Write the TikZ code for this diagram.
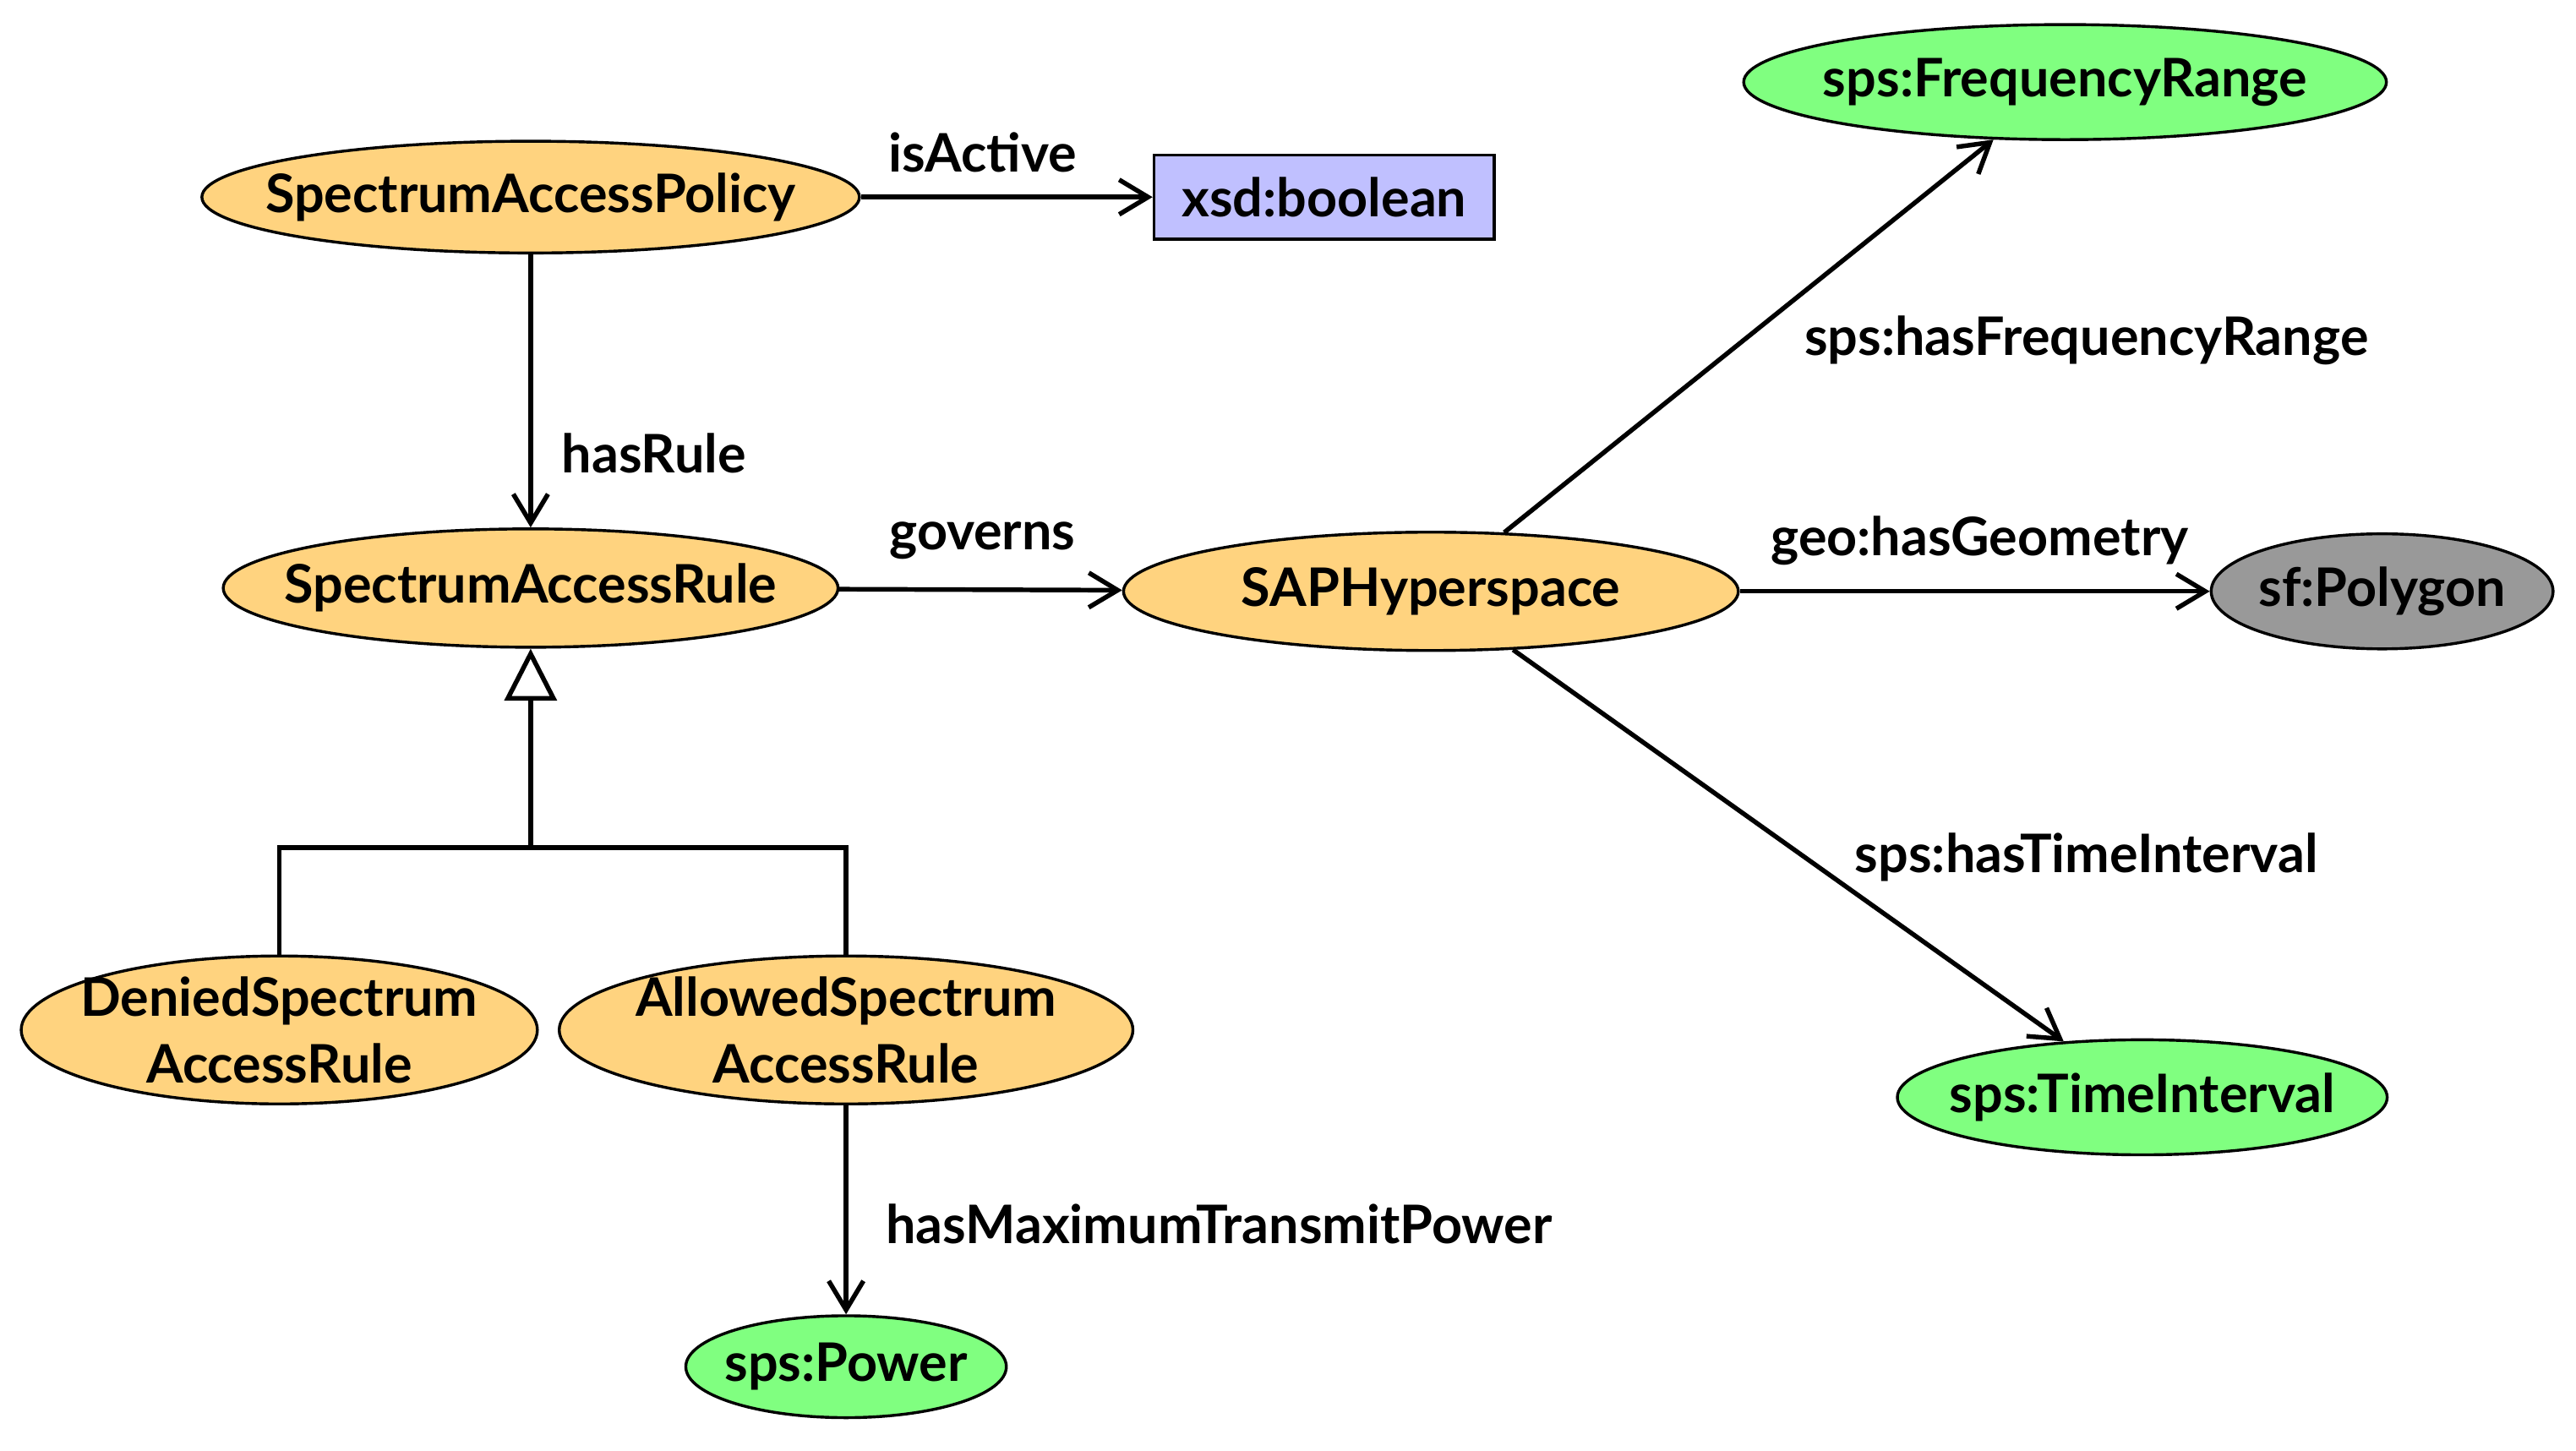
\documentclass[tikz,border=0pt]{standalone}
\usepackage{fontspec}
\setmainfont{Lato}
\usetikzlibrary{shapes.geometric,arrows.meta}
\definecolor{orng}{HTML}{FFD37F}
\definecolor{grn}{HTML}{80FF80}
\definecolor{lav}{HTML}{C0C0FF}
\definecolor{gry}{HTML}{999999}
\begin{document}
\begin{tikzpicture}[x=0.01cm,y=0.01cm,
  font=\fontsize{9.2}{11.5}\selectfont\bfseries,
  el/.style={ellipse,draw,line width=0.5pt,inner sep=-0.6cm,align=center},
  cls/.style={el,fill=orng},
  lit/.style={el,fill=grn},
  arr/.style={line width=0.8pt,-{Straight Barb[length=5pt,width=6pt]}},
  lbl/.style={font=\fontsize{9.2}{11.5}\selectfont\bfseries}]
\useasboundingbox (0,0) rectangle (1568,883);
\node[cls,minimum width=4cm,minimum height=0.68cm] (sap) at (323,763) {SpectrumAccessPolicy};
\node[draw,fill=lav,line width=0.5pt,minimum width=2.07cm,minimum height=0.51cm,inner sep=0] (xsd) at (806,763) {xsd:boolean};
\node[cls,minimum width=3.74cm,minimum height=0.72cm] (sar) at (323,525) {SpectrumAccessRule};
\node[cls,minimum width=3.74cm,minimum height=0.72cm] (saph) at (871,523) {SAPHyperspace};
\node[lit,minimum width=3.91cm,minimum height=0.7cm] (freq) at (1257,833) {sps:FrequencyRange};
\node[el,fill=gry,minimum width=2.08cm,minimum height=0.7cm] (poly) at (1450,523) {sf:Polygon};
\node[lit,minimum width=2.98cm,minimum height=0.7cm] (time) at (1304,215) {sps:TimeInterval};
\node[cls,minimum width=3.14cm,minimum height=0.9cm] (den) at (170,256) {DeniedSpectrum\\AccessRule};
\node[cls,minimum width=3.49cm,minimum height=0.9cm] (all) at (515,256) {AllowedSpectrum\\AccessRule};
\node[lit,minimum width=1.95cm,minimum height=0.62cm] (pow) at (515,51) {sps:Power};
\coordinate (j) at (323,367);
\draw[arr] (sap) -- (xsd);
\draw[arr] (sap) -- (sar);
\draw[arr] (sar) -- (saph);
\draw[arr] (saph) -- (freq);
\draw[arr] (saph) -- (poly);
\draw[arr] (saph) -- (time);
\draw[arr] (all) -- (pow);
\node[lbl] (l1) at (598,790) {isActive};
\node[lbl] (l2) at (398,607) {hasRule};
\node[lbl] (l3) at (598,554) {governs};
\node[lbl] (l4) at (1270,676) {sps:hasFrequencyRange};
\node[lbl] (l5) at (1205,554) {geo:hasGeometry};
\node[lbl] (l6) at (1270,361) {sps:hasTimeInterval};
\node[lbl] (l7) at (742,138) {hasMaximumTransmitPower};
\draw[line width=0.8pt,-{Triangle[open,length=9pt,width=9pt]}] (j) -- (sar);
\draw[line width=0.8pt] (den.north) -- (den.north |- j) -- (all.north |- j) -- (all.north);
\end{tikzpicture}
\end{document}
